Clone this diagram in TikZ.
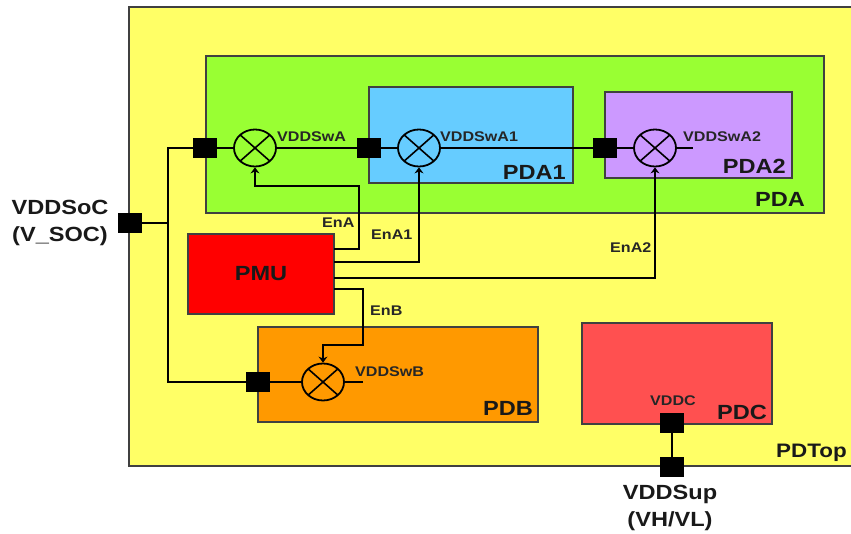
\documentclass[tikz,border=0pt]{standalone}
\usepackage{fontspec}
\setmainfont[FakeStretch=1.15]{Liberation Sans}
\usepackage{xcolor}
\usetikzlibrary{arrows.meta, shapes.geometric}

\definecolor{topyellow}{HTML}{FFFF66}
\definecolor{pdagreen}{HTML}{99FF33}
\definecolor{pdablue}{HTML}{66CCFF}
\definecolor{pdapurple}{HTML}{CC99FF}
\definecolor{pmured}{HTML}{FF0000}
\definecolor{pdborange}{HTML}{FF9900}
\definecolor{pdcred}{HTML}{FF5050}
\definecolor{edgegray}{HTML}{404040}

\tikzset{
    pdbox/.style={draw=edgegray, line width=1.2pt, inner sep=0pt},
    portbox/.style={fill=black, minimum width=24pt, minimum height=20pt, inner sep=0pt},
    swtch/.style={draw, ellipse, line width=1.8pt, minimum width=42pt, minimum height=37pt, inner sep=0pt,
        path picture={
            \draw[line width=1.6pt] (path picture bounding box.north west) -- (path picture bounding box.south east);
            \draw[line width=1.6pt] (path picture bounding box.south west) -- (path picture bounding box.north east);
        }},
    wire/.style={line width=1.8pt},
    enwire/.style={line width=1.8pt, -{Stealth[length=6pt, width=9pt]}},
    biglabel/.style={font=\bfseries\fontsize{20.5}{26.5}\selectfont, inner sep=0pt, text=black!90},
    smalllabel/.style={font=\bfseries\fontsize{14}{16}\selectfont, inner sep=0pt, text=black!85}
}

\begin{document}
\begin{tikzpicture}[x=1pt, y=-1pt]
        \useasboundingbox (0,0) rectangle (851,534);

        % power domains
        \node[pdbox, fill=topyellow, minimum width=760pt, minimum height=459pt] (pdtop) at (509,236.5) {};
        \node[pdbox, fill=pdagreen, minimum width=618pt, minimum height=157pt] (pda) at (515,134.5) {};
        \node[pdbox, fill=pdablue, minimum width=204pt, minimum height=96pt] (pda1) at (471,135) {};
        \node[pdbox, fill=pdapurple, minimum width=187pt, minimum height=86pt] (pda2) at (698.5,135) {};
        \node[pdbox, fill=pdborange, minimum width=280pt, minimum height=95pt] (pdb) at (398,374.5) {};
        \node[pdbox, fill=pdcred, minimum width=190pt, minimum height=101pt] (pdc) at (677,373.5) {};
        \node[pdbox, fill=pmured, minimum width=146pt, minimum height=80pt, biglabel] (pmu) at (261,274) {PMU};

        % domain names
        \node[biglabel, font=\bfseries\fontsize{19.5}{24}\selectfont, anchor=west] (pdtopname) at (776,453) {PDTop};
        \node[biglabel, anchor=east] (pdaname) at (805,199) {PDA};
        \node[biglabel, anchor=east] (pda1name) at (566,172) {PDA1};
        \node[biglabel, anchor=east] (pda2name) at (786,166) {PDA2};
        \node[biglabel, anchor=east] (pdbname) at (533,408) {PDB};
        \node[biglabel, anchor=east] (pdcname) at (767,412) {PDC};

        % switches
        \node[swtch] (swa) at (255,148) {};
        \node[swtch] (swa1) at (419,148) {};
        \node[swtch] (swa2) at (655,148) {};
        \node[swtch] (swb) at (323,382) {};

        % ports
        \node[portbox] (psoc) at (130,223) {};
        \node[portbox] (pa) at (205,148) {};
        \node[portbox] (pa1) at (369,148) {};
        \node[portbox] (pa2) at (605,148) {};
        \node[portbox] (pb) at (258,382) {};
        \node[portbox] (pc) at (672,423) {};
        \node[portbox] (psup) at (672,467) {};

        % supply wires
        \coordinate (trunk) at (168,223);
        \coordinate (stuba2) at (693,148);
        \coordinate (stubb) at (363,382);
        \draw[wire] (psoc) -- (trunk);
        \draw[wire] (pa) -| (trunk);
        \draw[wire] (pb) -| (trunk);
        \draw[wire] (pa) -- (swa);
        \draw[wire] (swa) -- (pa1);
        \draw[wire] (pa1) -- (swa1);
        \draw[wire] (swa1) -- (pa2);
        \draw[wire] (pa2) -- (swa2);
        \draw[wire] (swa2) -- (stuba2);
        \draw[wire] (pb) -- (swb);
        \draw[wire] (swb) -- (stubb);
        \draw[wire] (pc) -- (psup);

        % enable wires from the PMU
        \coordinate (enaout) at (334,249);
        \coordinate (ena1out) at (334,262);
        \coordinate (ena2out) at (334,278);
        \coordinate (enbout) at (334,289);
        \draw[enwire] (enaout) -- (359,249) -- (359,186) -| (swa.south);
        \draw[enwire] (ena1out) -| (swa1.south);
        \draw[enwire] (ena2out) -| (swa2.south);
        \draw[enwire] (enbout) -- (363,289) -- (363,345) -| (swb.north);

        % wire names
        \node[smalllabel, anchor=west] (vddswa) at (277,137) {VDDSwA};
        \node[smalllabel, anchor=west] (vddswa1) at (440,137) {VDDSwA1};
        \node[smalllabel, anchor=west] (vddswa2) at (683,137) {VDDSwA2};
        \node[smalllabel, anchor=west] (vddswb) at (355,372) {VDDSwB};
        \node[smalllabel, anchor=west] (vddc) at (650,401) {VDDC};
        \node[smalllabel, anchor=west] (ena) at (322,223) {EnA};
        \node[smalllabel, anchor=west] (ena1) at (371,235) {EnA1};
        \node[smalllabel, anchor=west] (ena2) at (610,248) {EnA2};
        \node[smalllabel, anchor=west] (enb) at (370,311) {EnB};

        % supply names
        \node[biglabel, align=center] (vddsoc) at (60,223) {VDDSoC\\(V\_SOC)};
        \node[biglabel, align=center] (vddsup) at (670,508) {VDDSup\\(VH/VL)};
    \end{tikzpicture}
\end{document}
